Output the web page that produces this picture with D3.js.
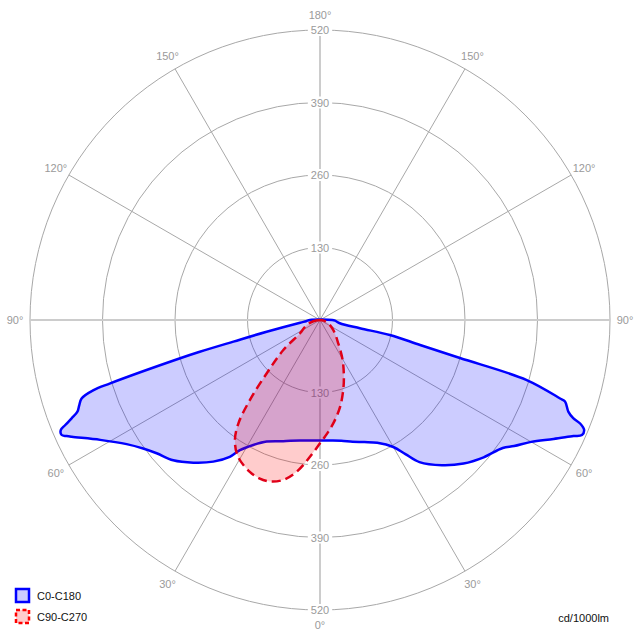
<!DOCTYPE html>
<html>
<head>
<meta charset="utf-8">
<script src="https://cdn.jsdelivr.net/npm/d3@7"></script>
<style>
  html, body { margin: 0; padding: 0; background: #fff; }
  svg { display: block; font-family: "Liberation Sans", Arial, sans-serif; }
</style>
</head>
<body>
<svg id="chart" width="640" height="640"></svg>
<script>
// ---------- data (cd/1000lm) ----------
// C0 half (drawn on the right), gamma in degrees from nadir
const gammaC0 = [0,5,10,15,20,25,30,32.5,35,40,45,50,55,57,60,63,65.4,66.3,67.4,68.3,68.8,69.7,71.6,71.9,73.8,74.8,76,77.9,78.3,80.6,87.3,90];
const valuesC0 = [216,217,220,226,233,243,263,285,311,340,364,383,400,415,437,470,500,513,513,502,487,475,463,453,386,260,185,128,73,36,27,22];
// C180 half (drawn on the left)
const gammaC180 = [0,1.6,9.4,16.9,23.7,28.1,31.6,33.4,37,41.6,46.3,50.8,54,57.3,61.4,64.8,65.4,66,67,67.6,68.4,69.3,70.5,71.8,72.8,73.2,74.7,75.2,76,77.6,82.3,85,90];
const valuesC180 = [216,216,219,227,238,254,274,294,318,342,364,378,392,412,449,492,500,507,505,494,479,465,458,450,425,393,260,223,160,98,36,25,18];
// C90 half (right)
const gammaC90 = [0,2.5,7.3,13,18.4,22.9,29.6,38.1,53,68,80,90];
const valuesC90 = [221,209,187,160,132,110,82,53,30,16,7,0];
// C270 half (left)
const gammaC270 = [0,4.2,8.7,12.9,17.2,21,24.8,30.9,35.3,38.3,41.2,45,50.7,56.4,65,75,85,90];
const valuesC270 = [221,246,275,294,303,304,300,286,264,236,191,135,85,43,30,18,5,0];

const radialTicks = [130,260,390,520];
const angleLabels = [0,30,60,90,120,150,180];
const spokeAngles = [30,60,120,150];
const seriesNames = ["C0-C180","C90-C270"];
const unitLabel = "cd/1000lm";

// ---------- layout ----------
const cx = 320, cy = 320, R = 290;
const svg = d3.select("#chart");
const r = d3.scaleLinear().domain([0, 520]).range([0, R]);
const gridColor = "#a8a8a8", axisColor = "#cccccc", labelColor = "#9a9a9a";

const g = svg.append("g").attr("transform", `translate(${cx},${cy})`);

// point helpers: gamma from nadir, side +1 = right, -1 = left
const px = (gam, v, side) => side * r(v) * Math.sin(gam * Math.PI / 180);
const py = (gam, v) => r(v) * Math.cos(gam * Math.PI / 180);

// rings
g.selectAll("circle.ring").data(radialTicks).join("circle")
  .attr("class", "ring").attr("r", d => r(d))
  .attr("fill", "none").attr("stroke", gridColor).attr("stroke-width", 1);

// spokes
spokeAngles.forEach(a => {
  [1, -1].forEach(s => {
    g.append("line").attr("x1", 0).attr("y1", 0)
      .attr("x2", px(a, 520, s)).attr("y2", py(a, 520))
      .attr("stroke", gridColor).attr("stroke-width", 1);
  });
});
// main axes
g.append("line").attr("x1", 0).attr("y1", -R).attr("x2", 0).attr("y2", R)
  .attr("stroke", axisColor).attr("stroke-width", 2);
g.append("line").attr("x1", -R).attr("y1", 0).attr("x2", R).attr("y2", 0)
  .attr("stroke", axisColor).attr("stroke-width", 2);

// angle labels
const angLab = [];
angleLabels.forEach(a => {
  if (a === 0 || a === 180) angLab.push({a, s: 1});
  else { angLab.push({a, s: -1}); angLab.push({a, s: 1}); }
});
g.selectAll("text.ang").data(angLab).join("text")
  .attr("class", "ang")
  .attr("x", d => d.s * 305 * Math.sin(d.a * Math.PI / 180))
  .attr("y", d => 305 * Math.cos(d.a * Math.PI / 180))
  .attr("text-anchor", "middle").attr("dominant-baseline", "central")
  .attr("font-size", 11).attr("fill", labelColor)
  .text(d => d.a + "°");

// radial tick labels on vertical axis (top & bottom) with white background
const tickLab = [];
radialTicks.forEach(v => { tickLab.push({v, s: -1}); tickLab.push({v, s: 1}); });
const tg = g.selectAll("g.tick").data(tickLab).join("g").attr("class", "tick")
  .attr("transform", d => `translate(0,${d.s * r(d.v)})`);
tg.append("rect").attr("fill", "#fff");
tg.append("text").attr("text-anchor", "middle").attr("dominant-baseline", "central")
  .attr("font-size", 11).attr("fill", labelColor).text(d => d.v);
tg.each(function() {
  const t = d3.select(this).select("text").node();
  const w = t.getComputedTextLength();
  d3.select(this).select("rect").attr("x", -w / 2 - 3).attr("y", -6).attr("width", w + 6).attr("height", 12);
});

// ---------- curves ----------
function buildPoints(gL, vL, gR, vR) {
  const pts = [];
  for (let i = gL.length - 1; i >= 0; i--) pts.push([Math.PI + gL[i] * Math.PI / 180, r(vL[i])]);
  for (let i = 0; i < gR.length; i++) pts.push([Math.PI - gR[i] * Math.PI / 180, r(vR[i])]);
  return pts;
}
const radial = d3.lineRadial().angle(d => d[0]).radius(d => d[1])
  .curve(d3.curveCatmullRomClosed.alpha(0.5));

const bluePts = buildPoints(gammaC180, valuesC180, gammaC0, valuesC0);
const redPts = buildPoints(gammaC270, valuesC270, gammaC90, valuesC90);

g.append("path").attr("d", radial(bluePts))
  .attr("fill", "rgba(0,0,255,0.2)").attr("stroke", "#0000ff")
  .attr("stroke-width", 2.5).attr("stroke-linejoin", "round");
g.append("path").attr("d", radial(redPts))
  .attr("fill", "rgba(255,0,0,0.2)").attr("stroke", "#e00018")
  .attr("stroke-width", 2.5).attr("stroke-dasharray", "9,5").attr("stroke-linejoin", "round");

// ---------- legend ----------
const leg = svg.append("g");
const legendItems = [
  {name: seriesNames[0], fill: "#ccccff", stroke: "#0000ff", dash: null, y: 588},
  {name: seriesNames[1], fill: "#ffcccc", stroke: "#ff0000", dash: "4,2.5", y: 609}
];
legendItems.forEach(it => {
  leg.append("rect").attr("x", 16).attr("y", it.y + 1).attr("width", 13).attr("height", 13)
    .attr("fill", it.fill).attr("stroke", it.stroke).attr("stroke-width", 2.5)
    .attr("stroke-dasharray", it.dash);
  leg.append("text").attr("x", 37).attr("y", it.y + 7.5)
    .attr("dominant-baseline", "central").attr("font-size", 11).attr("fill", "#111")
    .text(it.name);
});
svg.append("text").attr("x", 609).attr("y", 617.5).attr("text-anchor", "end")
  .attr("dominant-baseline", "central").attr("font-size", 11).attr("fill", "#111")
  .text(unitLabel);
</script>
</body>
</html>
